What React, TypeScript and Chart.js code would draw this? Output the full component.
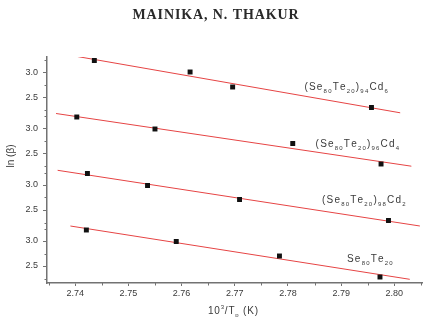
import React, { useEffect, useRef } from 'react';
import { Chart, registerables } from 'chart.js';

Chart.register(...registerables);

// ---- data (x = 10^3/Tp, y = ln(beta)) ----
const xCd6 = [2.7436, 2.7616, 2.7696, 2.7957];
const yCd6 = [3.24, 3.01, 2.71, 2.30];
const fitXCd6 = [2.7404, 2.8011];
const fitYCd6 = [3.32, 2.194];

const xCd4 = [2.7403, 2.755, 2.7809, 2.7975];
const yCd4 = [3.23, 2.99, 2.70, 2.29];
const fitXCd4 = [2.7364, 2.8032];
const fitYCd4 = [3.30, 2.246];

const xCd2 = [2.7423, 2.7536, 2.7709, 2.7989];
const yCd2 = [3.23, 2.99, 2.71, 2.29];
const fitXCd2 = [2.7367, 2.8048];
const fitYCd2 = [3.294, 2.18];

const xSeTe = [2.7421, 2.759, 2.7784, 2.7973];
const ySeTe = [3.22, 2.99, 2.70, 2.28];
const fitXSeTe = [2.7391, 2.8029];
const fitYSeTe = [3.30, 2.234];

// vertical offsets of the stacked panels (top to bottom)
const groupOffsets = [3.37, 2.25, 1.12, 0];
const yTickValues = [3.0, 2.5];
const yMinorValues = [2.25, 2.75, 3.25];
const xTickValues = [2.74, 2.75, 2.76, 2.77, 2.78, 2.79, 2.8];
const xMinorValues = [2.735, 2.745, 2.755, 2.765, 2.775, 2.785, 2.795, 2.805];

type Part = { t: string; sub?: boolean; sup?: boolean };
const seriesLabels: Part[][] = [
  [{ t: '(Se' }, { t: '80', sub: true }, { t: 'Te' }, { t: '20', sub: true }, { t: ')' }, { t: '94', sub: true }, { t: 'Cd' }, { t: '6', sub: true }],
  [{ t: '(Se' }, { t: '80', sub: true }, { t: 'Te' }, { t: '20', sub: true }, { t: ')' }, { t: '96', sub: true }, { t: 'Cd' }, { t: '4', sub: true }],
  [{ t: '(Se' }, { t: '80', sub: true }, { t: 'Te' }, { t: '20', sub: true }, { t: ')' }, { t: '98', sub: true }, { t: 'Cd' }, { t: '2', sub: true }],
  [{ t: 'Se' }, { t: '80', sub: true }, { t: 'Te' }, { t: '20', sub: true }],
];
// label anchor (left, baseline) in axis units
const labelPosX = [2.7831, 2.7852, 2.7864, 2.7911];
const labelPosY = [6.02, 4.886, 3.754, 2.586];

const titleText = 'MAINIKA, N. THAKUR';
const xTitle: Part[] = [{ t: '10' }, { t: '3', sup: true }, { t: '/T' }, { t: 'p', sub: true }, { t: ' (K)' }];
const yTitle = 'ln (\u03B2)';

const SANS = '"Liberation Sans", Arial, sans-serif';
const AXIS = '#727272';
const TEXT = '#3a3a3a';
const RED = 'rgb(230,68,68)';

function drawRich(ctx: CanvasRenderingContext2D, parts: Part[], x: number, y: number, size: number, spacing: number) {
  let cx = x;
  ctx.textAlign = 'left';
  ctx.textBaseline = 'alphabetic';
  for (const p of parts) {
    const fs = p.sub || p.sup ? size * 0.6 : size;
    ctx.font = `${fs}px ${SANS}`;
    const dy = p.sub ? size * 0.3 : p.sup ? -size * 0.42 : 0;
    for (const ch of p.t) {
      ctx.fillText(ch, cx, y + dy);
      cx += ctx.measureText(ch).width + spacing;
    }
  }
}

function spacedText(ctx: CanvasRenderingContext2D, text: string, cx: number, y: number, spacing: number) {
  let w = 0;
  for (const ch of text) w += ctx.measureText(ch).width + spacing;
  w -= spacing;
  let x = cx - w / 2;
  ctx.textAlign = 'left';
  for (const ch of text) {
    ctx.fillText(ch, x, y);
    x += ctx.measureText(ch).width + spacing;
  }
}

const decorPlugin = {
  id: 'decor',
  afterDraw(chart: any) {
    const ctx: CanvasRenderingContext2D = chart.ctx;
    const xs = chart.scales.x;
    const ys = chart.scales.y;
    const area = chart.chartArea;
    ctx.save();
    // minor ticks
    ctx.strokeStyle = AXIS;
    ctx.lineWidth = 1;
    ctx.beginPath();
    for (const off of groupOffsets) {
      for (const v of yMinorValues) {
        const val = v + off;
        if (val < ys.min || val > ys.max) continue;
        const py = Math.round(ys.getPixelForValue(val)) + 0.5;
        ctx.moveTo(area.left - 2.5, py);
        ctx.lineTo(area.left, py);
      }
    }
    for (const v of xMinorValues) {
      if (v < xs.min || v > xs.max) continue;
      const px = Math.round(xs.getPixelForValue(v)) + 0.5;
      ctx.moveTo(px, area.bottom);
      ctx.lineTo(px, area.bottom + 2.5);
    }
    ctx.stroke();

    // series labels
    ctx.fillStyle = TEXT;
    seriesLabels.forEach((parts, i) => {
      drawRich(ctx, parts, xs.getPixelForValue(labelPosX[i]), ys.getPixelForValue(labelPosY[i]), 10, 1.2);
    });

    // x title
    drawRich(ctx, xTitle, 208, 313.5, 10, 0.8);

    // y title
    ctx.save();
    ctx.translate(13.5, 156);
    ctx.rotate(-Math.PI / 2);
    ctx.font = `10px ${SANS}`;
    ctx.textAlign = 'center';
    ctx.textBaseline = 'alphabetic';
    ctx.fillText(yTitle, 0, 0);
    ctx.restore();

    // page title
    ctx.fillStyle = '#2a2a2a';
    ctx.font = `bold 14px "Liberation Serif", "Times New Roman", serif`;
    ctx.textBaseline = 'alphabetic';
    spacedText(ctx, titleText, 215.5, 19, 0.9);
    ctx.restore();
  },
};

export default function App() {
  const ref = useRef<HTMLCanvasElement>(null);
  useEffect(() => {
    if (!ref.current) return;
    const series = [
      { x: xCd6, y: yCd6, fx: fitXCd6, fy: fitYCd6, off: groupOffsets[0] },
      { x: xCd4, y: yCd4, fx: fitXCd4, fy: fitYCd4, off: groupOffsets[1] },
      { x: xCd2, y: yCd2, fx: fitXCd2, fy: fitYCd2, off: groupOffsets[2] },
      { x: xSeTe, y: ySeTe, fx: fitXSeTe, fy: fitYSeTe, off: groupOffsets[3] },
    ];
    const datasets: any[] = [];
    series.forEach((s) => {
      datasets.push({
        data: s.fx.map((x, i) => ({ x, y: s.fy[i] + s.off })),
        showLine: true,
        borderColor: RED,
        borderWidth: 1,
        pointRadius: 0,
        order: 2,
      });
      datasets.push({
        data: s.x.map((x, i) => ({ x, y: s.y[i] + s.off })),
        showLine: false,
        pointStyle: 'rect',
        pointRadius: 3.5,
        backgroundColor: '#111',
        borderColor: '#111',
        borderWidth: 0,
        order: 1,
      });
    });
    const yTickPos: number[] = [];
    const yTickLab: string[] = [];
    groupOffsets.forEach((off) => {
      yTickValues.forEach((v) => {
        yTickPos.push(v + off);
        yTickLab.push(v.toFixed(1));
      });
    });
    const chart = new Chart(ref.current, {
      type: 'scatter',
      data: { datasets },
      options: {
        responsive: false,
        animation: false,
        devicePixelRatio: 1,
        layout: { padding: { top: 57, right: 3, left: 0, bottom: 0 } },
        plugins: { legend: { display: false }, tooltip: { enabled: false }, title: { display: false } },
        scales: {
          x: {
            type: 'linear',
            min: 2.7347,
            max: 2.8052,
            afterBuildTicks: (s: any) => {
              s.ticks = xTickValues.map((v) => ({ value: v }));
            },
            afterFit: (s: any) => {
              s.height = 34;
            },
            ticks: {
              callback: (v: any) => Number(v).toFixed(2),
              font: { size: 9, family: SANS },
              color: TEXT,
              padding: 2,
              maxRotation: 0,
              autoSkip: false,
            },
            grid: { display: true, drawOnChartArea: false, drawTicks: true, tickLength: 3, color: AXIS },
            border: { display: true, color: AXIS, width: 1.5 },
          },
          y: {
            type: 'linear',
            min: 2.16,
            max: 6.68,
            afterBuildTicks: (s: any) => {
              s.ticks = yTickPos.map((v) => ({ value: v }));
            },
            afterFit: (s: any) => {
              s.width = 47;
            },
            ticks: {
              callback: (_v: any, i: number) => yTickLab[i],
              font: { size: 9, family: SANS },
              color: TEXT,
              padding: 5,
              autoSkip: false,
            },
            grid: { display: true, drawOnChartArea: false, drawTicks: true, tickLength: 4, color: AXIS },
            border: { display: true, color: AXIS, width: 1.5 },
          },
        },
      },
      plugins: [decorPlugin],
    });
    return () => chart.destroy();
  }, []);
  return (
    <div style={{ position: 'fixed', left: 0, top: 0, width: 426, height: 317, background: '#fff' }}>
      <canvas ref={ref} width={426} height={317} style={{ display: 'block' }} />
    </div>
  );
}
